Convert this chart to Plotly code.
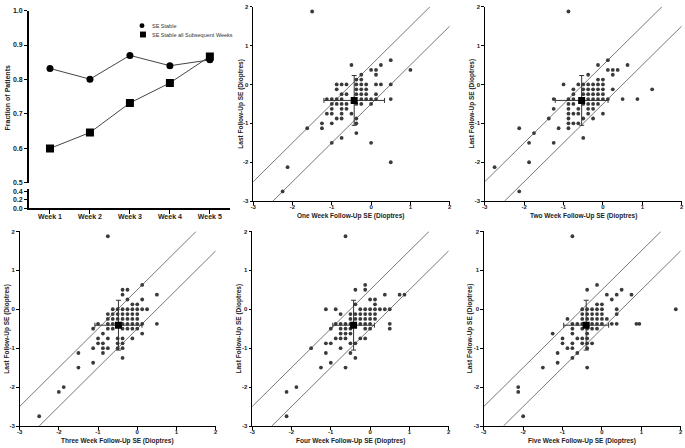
import plotly.graph_objects as go

# ---------------- data ----------------
weeks = ["Week 1", "Week 2", "Week 3", "Week 4", "Week 5"]
se_stable = [0.832, 0.801, 0.870, 0.840, 0.857]
se_stable_all_subsequent = [0.600, 0.646, 0.732, 0.790, 0.867]
frac_ticks_upper = [0.5, 0.6, 0.7, 0.8, 0.9, 1.0]
frac_ticks_lower = [0.0, 0.2, 0.4]

panel_names = ["One Week", "Two Week", "Three Week", "Four Week", "Five Week"]

# rows: (last follow-up SE, [week-n follow-up SE values])
one_week_rows = [
    (1.875, [-1.5]),
    (0.625, [0.5]),
    (0.5, [-0.5, 0.25]),
    (0.375, [0.0, 0.125, 1.0]),
    (0.25, [-0.25, 0.125]),
    (0.125, [-0.375, -0.25]),
    (0.0, [-0.875, -0.75, -0.625, -0.375, -0.25, -0.125, 0.125, 0.25, 0.5]),
    (-0.125, [-0.875, -0.375, -0.25, -0.125]),
    (-0.25, [-0.75, -0.625, -0.375, -0.25, -0.125, 0.125]),
    (-0.375, [-1.125, -1.0, -0.875, -0.75, -0.25, -0.125, 0.0, 0.125, 0.5]),
    (-0.5, [-1.0, -0.875, -0.75, -0.625, -0.375, -0.25, 0.0]),
    (-0.625, [-1.0, -0.75, -0.625]),
    (-0.75, [-1.125, -1.0, -0.75, -0.5]),
    (-0.875, [-0.875, -0.75, -0.375]),
    (-1.0, [-1.25, -1.0, -0.375]),
    (-1.125, [-1.625, -1.25]),
    (-1.25, [-0.375]),
    (-1.375, [-0.75]),
    (-1.5, [-1.0, 0.0]),
    (-2.0, [0.5]),
    (-2.125, [-2.125]),
    (-2.75, [-2.25]),
]
two_week_rows = [
    (1.875, [-0.875]),
    (0.625, [0.125]),
    (0.5, [-0.125, 0.625]),
    (0.375, [0.125, 0.25, 0.375]),
    (0.25, [-0.375, 0.25]),
    (0.125, [-0.125, 0.0]),
    (0.0, [-1.0, -0.625, -0.5, -0.375, -0.25, -0.125, 0.0]),
    (-0.125, [-0.75, -0.5, -0.375, -0.25, -0.125, 0.0, 0.25, 1.25]),
    (-0.25, [-0.75, -0.5, -0.375, -0.25, -0.125, 0.0]),
    (-0.375, [-1.25, -0.875, -0.75, -0.375, -0.25, -0.125, 0.0, 0.125, 0.5, 0.875]),
    (-0.5, [-0.875, -0.75, -0.5, -0.375, -0.25, -0.125]),
    (-0.625, [-1.25, -0.875, -0.625, -0.375, -0.25]),
    (-0.75, [-0.875, -0.75, -0.625, -0.375, 0.0]),
    (-0.875, [-1.375, -0.875, -0.5, -0.25]),
    (-1.0, [-0.875, -0.75, -0.625]),
    (-1.125, [-2.125, -1.125, -0.875]),
    (-1.25, [-1.75]),
    (-1.375, [-0.5]),
    (-1.5, [-1.875, -1.25]),
    (-2.0, [-1.875]),
    (-2.125, [-2.75]),
    (-2.75, [-2.125]),
]
three_week_rows = [
    (1.875, [-0.75]),
    (0.625, [0.125]),
    (0.5, [-0.375, -0.25]),
    (0.375, [-0.375, 0.5]),
    (0.25, [-0.25, 0.125]),
    (0.125, [-0.125, 0.0]),
    (0.0, [-0.625, -0.5, -0.375, -0.25, -0.125, 0.0, 0.125, 0.25]),
    (-0.125, [-0.75, -0.625, -0.5, -0.375, -0.25, -0.125, 0.0]),
    (-0.25, [-0.75, -0.625, -0.5, -0.375, -0.25, -0.125, 0.0]),
    (-0.375, [-1.0, -0.75, -0.625, -0.375, -0.25, -0.125, 0.0, 0.125, 0.5]),
    (-0.5, [-1.125, -0.75, -0.625, -0.375, -0.25, -0.125, 0.0]),
    (-0.625, [-0.875, 0.125]),
    (-0.75, [-1.0, -0.75, -0.5, -0.375, -0.125]),
    (-0.875, [-1.0, -0.875, -0.5, -0.375]),
    (-1.0, [-1.125, -0.875, -0.75, -0.5, -0.375]),
    (-1.125, [-1.5, -0.875]),
    (-1.25, [-0.375]),
    (-1.375, [-1.125]),
    (-1.5, [-1.5]),
    (-2.0, [-1.875]),
    (-2.125, [-2.0]),
    (-2.75, [-2.5]),
]
four_week_rows = [
    (1.875, [-0.625]),
    (0.625, [-0.125]),
    (0.5, [-0.375, -0.125]),
    (0.375, [0.375, 0.75, 0.875]),
    (0.25, [0.0, 0.125]),
    (0.125, [-0.375, 0.125]),
    (0.0, [-1.125, -0.875, -0.25, -0.125, 0.0, 0.125, 0.25, 0.375, 0.5]),
    (-0.125, [-0.75, -0.5, -0.375, -0.25, -0.125, 0.0, 0.125]),
    (-0.25, [-0.5, -0.375, -0.25, -0.125, 0.0, 0.125]),
    (-0.375, [-0.875, -0.75, -0.625, -0.5, -0.25, -0.125, 0.0, 0.5]),
    (-0.5, [-1.0, -0.75, -0.625, -0.5, -0.125, 0.0, 0.5]),
    (-0.625, [-0.75, -0.625, -0.5]),
    (-0.75, [-0.875, -0.75, -0.625, -0.25, -0.125]),
    (-0.875, [-1.125, -1.0, -0.5, -0.375]),
    (-1.0, [-1.5, -0.75]),
    (-1.125, [-1.125, -0.5]),
    (-1.25, [-0.375]),
    (-1.375, [-1.0]),
    (-1.5, [-1.25, -0.625]),
    (-2.0, [-1.875]),
    (-2.125, [-2.125]),
    (-2.75, [-2.125]),
]
five_week_rows = [
    (1.875, [-0.75]),
    (0.625, [-0.125]),
    (0.5, [-0.375, 0.5]),
    (0.375, [0.125, 0.375, 0.75]),
    (0.25, [0.25]),
    (0.125, [-0.125, 0.0]),
    (0.0, [-0.5, -0.375, -0.25, -0.125, 0.0, 0.375, 1.875]),
    (-0.125, [-0.5, -0.375, -0.25, -0.125, 0.0, 0.375]),
    (-0.25, [-0.875, -0.5, -0.375, -0.25, -0.125, 0.0, 0.125]),
    (-0.375, [-0.75, -0.625, -0.5, -0.25, -0.125, 0.0, 0.25, 0.375, 0.875, 0.95]),
    (-0.5, [-0.75, -0.5, -0.375, -0.25, -0.125]),
    (-0.625, [-1.25, -0.75, -0.375]),
    (-0.75, [-1.0, -0.625, -0.5, -0.375]),
    (-0.875, [-1.0, -0.75, -0.5, -0.375, -0.25]),
    (-1.0, [-0.875, -0.75, -0.375]),
    (-1.125, [-1.125, -0.625]),
    (-1.25, [-0.75]),
    (-1.375, [-1.125]),
    (-1.5, [-1.5, -0.375]),
    (-2.0, [-2.125]),
    (-2.125, [-2.125]),
    (-2.75, [-2.0]),
]
panel_rows = [one_week_rows, two_week_rows, three_week_rows, four_week_rows, five_week_rows]

mean_followup = [-0.43, -0.54, -0.48, -0.42, -0.40]
sd_followup = [0.77, 0.67, 0.60, 0.53, 0.57]
mean_last = -0.41
sd_last = 0.64
agreement_limit = 0.5
se_range = [-3, 2]
se_ticks = [-3, -2, -1, 0, 1, 2]
se_tick_labels = ["-3", "-2", "-1", "0", "1", "2"]

# ---------------- layout geometry (pixels) ----------------
W, H = 685, 448
FONT = "Liberation Sans, Arial, sans-serif"
DOT = "#3a3a3a"


def px_x(p):
    return p / W


def px_y(p):
    return 1 - p / H


def rows_to_xy(rows):
    xs, ys = [], []
    for yv, xvals in rows:
        for xv in xvals:
            xs.append(xv)
            ys.append(yv)
    return xs, ys


fig = go.Figure()

# ---------------- panel 1: line chart ----------------
fig.add_trace(go.Scatter(
    x=weeks, y=se_stable, mode="lines+markers", xaxis="x", yaxis="y2",
    line=dict(color="#444444", width=1),
    marker=dict(symbol="circle", size=7, color="black"), showlegend=False))
fig.add_trace(go.Scatter(
    x=weeks, y=se_stable_all_subsequent, mode="lines+markers", xaxis="x", yaxis="y2",
    line=dict(color="#444444", width=1),
    marker=dict(symbol="square", size=8, color="black"), showlegend=False))
# invisible trace so the lower (broken) segment of the y axis is drawn
fig.add_trace(go.Scatter(
    x=weeks, y=se_stable, mode="markers", xaxis="x", yaxis="y",
    marker=dict(opacity=0), hoverinfo="skip", showlegend=False))

bold_tick = dict(family=FONT, size=7, color="#222", weight="bold")
small_tick = dict(family=FONT, size=6, color="#222", weight="bold")

layout = dict(
    width=W, height=H, margin=dict(l=0, r=0, t=0, b=0),
    paper_bgcolor="white", plot_bgcolor="white", showlegend=False,
    xaxis=dict(domain=[px_x(26), px_x(228.5)], anchor="y", type="category",
               range=[-0.53, 4.5], showline=True, linecolor="black", linewidth=1.5,
               ticks="outside", ticklen=4, tickwidth=1.2, tickcolor="black",
               ticklabelstandoff=-3,
               tickfont=bold_tick, showgrid=False, zeroline=False),
    yaxis=dict(domain=[px_y(207.3), px_y(187.5)], anchor="x", range=[0, 0.47],
               tickvals=frac_ticks_lower, ticktext=[f"{v:.1f}" for v in frac_ticks_lower],
               showline=True, linecolor="black", linewidth=1.5,
               ticks="outside", ticklen=3, tickwidth=1.2, tickcolor="black",
               tickfont=bold_tick, showgrid=False, zeroline=False),
    yaxis2=dict(domain=[px_y(181.7), px_y(6.7)], anchor="x", range=[0.5, 1.0],
                tickvals=frac_ticks_upper, ticktext=[f"{v:.1f}" for v in frac_ticks_upper],
                showline=True, linecolor="black", linewidth=1.5,
                ticks="outside", ticklen=3, tickwidth=1.2, tickcolor="black",
                tickfont=bold_tick, showgrid=False, zeroline=False),
)

annotations = [
    dict(text="<b>Fraction of Patients</b>", x=px_x(5), y=px_y(95), xref="paper", yref="paper",
         xanchor="center", yanchor="middle",
         textangle=-90, showarrow=False, font=dict(family=FONT, size=7, color="#222")),
    dict(text="SE Stable", x=px_x(148), y=px_y(22), xref="paper", yref="paper",
         xanchor="left", yanchor="middle", showarrow=False,
         font=dict(family=FONT, size=5.5, color="#333")),
    dict(text="SE Stable all Subsequent Weeks", x=px_x(148), y=px_y(31), xref="paper", yref="paper",
         xanchor="left", yanchor="middle", showarrow=False,
         font=dict(family=FONT, size=5.5, color="#333")),
]
shapes = [
    dict(type="circle", xref="paper", yref="paper", x0=px_x(137.5), x1=px_x(142.5),
         y0=px_y(24.5), y1=px_y(19.5), fillcolor="black", line=dict(width=0)),
    dict(type="rect", xref="paper", yref="paper", x0=px_x(138), x1=px_x(144),
         y0=px_y(34), y1=px_y(28), fillcolor="black", line=dict(width=0)),
]

# ---------------- panels 2-6: scatter plots ----------------
panel_boxes = [
    (252, 450, 2.7, 200.3),
    (485.3, 683.7, 2.7, 200.3),
    (16.7, 214.3, 231, 428.7),
    (251, 449, 231, 428.7),
    (484.3, 682.7, 231, 428.7),
]
title_y = [215, 215, 443.5, 443.5, 443.5]
ytitle_x = [239.5, 472, 4, 237.5, 470]

lo, hi = se_range
for i, rows in enumerate(panel_rows):
    n = i + 3
    xa, ya = f"x{n}", f"y{n}"
    x0, x1, y0, y1 = panel_boxes[i]
    xs, ys = rows_to_xy(rows)

    # agreement lines (y = x +/- limit), clipped to the axis box
    fig.add_trace(go.Scatter(x=[lo, hi - agreement_limit], y=[lo + agreement_limit, hi],
                             mode="lines", xaxis=xa, yaxis=ya,
                             line=dict(color="#555555", width=0.8), showlegend=False))
    fig.add_trace(go.Scatter(x=[lo + agreement_limit, hi], y=[lo, hi - agreement_limit],
                             mode="lines", xaxis=xa, yaxis=ya,
                             line=dict(color="#555555", width=0.8), showlegend=False))
    # individual eyes
    fig.add_trace(go.Scatter(x=xs, y=ys, mode="markers", xaxis=xa, yaxis=ya,
                             marker=dict(symbol="circle", size=3.8, color=DOT),
                             showlegend=False))
    # mean +/- SD
    fig.add_trace(go.Scatter(
        x=[mean_followup[i]], y=[mean_last], mode="markers", xaxis=xa, yaxis=ya,
        marker=dict(symbol="square", size=7, color="black"),
        error_x=dict(type="data", array=[sd_followup[i]], color="#333", thickness=1, width=2.5),
        error_y=dict(type="data", array=[sd_last], color="#333", thickness=1, width=2.5),
        showlegend=False))

    axis_common = dict(range=[lo, hi], tickvals=se_ticks, ticktext=se_tick_labels,
                       showline=True, linecolor="black", linewidth=1,
                       ticks="outside", ticklen=2.5, tickwidth=1, tickcolor="black",
                       tickfont=small_tick, showgrid=False, zeroline=False)
    layout[f"xaxis{n}"] = dict(domain=[px_x(x0), px_x(x1)], anchor=ya,
                               ticklabelstandoff=-3, **axis_common)
    layout[f"yaxis{n}"] = dict(domain=[px_y(y1), px_y(y0)], anchor=xa, **axis_common)

    annotations.append(dict(
        text=f"<b>{panel_names[i]} Follow-Up SE (Dioptres)</b>",
        x=px_x((x0 + x1) / 2), y=px_y(title_y[i]), xref="paper", yref="paper",
        xanchor="center", yanchor="middle",
        showarrow=False, font=dict(family=FONT, size=6.5, color="#222")))
    annotations.append(dict(
        text="<b>Last Follow-Up SE (Dioptres)</b>",
        x=px_x(ytitle_x[i]), y=px_y((y0 + y1) / 2), xref="paper", yref="paper",
        xanchor="center", yanchor="middle",
        textangle=-90, showarrow=False, font=dict(family=FONT, size=6.5, color="#222")))

layout["annotations"] = annotations
layout["shapes"] = shapes
fig.update_layout(**layout)

fig.write_html("out.html", config={"displayModeBar": False},
               post_script="document.body.style.margin='0';document.body.style.overflow='hidden';")
